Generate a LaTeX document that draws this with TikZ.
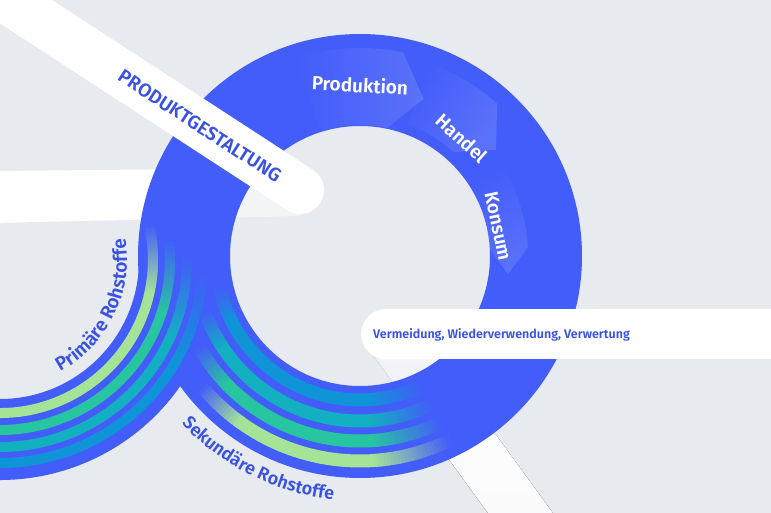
\documentclass[tikz,border=0pt]{standalone}
\usepackage{fontspec}
\setmainfont{Fira Sans}[BoldFont={Fira Sans SemiBold}]
\usetikzlibrary{calc,decorations.text,fadings}
\definecolor{paperbg}{RGB}{231,234,239}
\definecolor{ringblue}{RGB}{67,93,250}
\definecolor{labelblue}{RGB}{58,82,228}
\definecolor{flowlime}{RGB}{165,228,150}
\definecolor{flowgreen}{RGB}{40,198,160}
\definecolor{flowteal}{RGB}{18,176,192}
\definecolor{flowcyan}{RGB}{16,148,216}

% chevron piece of the ring: start angle, end angle, inner and outer radius, fading angle
\newcommand\ringsegment[5]{%
  \fill[segshade, fading angle=#5] ($(C)+(#1:#4)$) arc[start angle=#1, end angle=#2, radius=#4]
    -- ($(C)+({#2-10}:{(#3+#4)/2})$) -- ($(C)+(#2:#3)$)
    arc[start angle=#2, end angle=#1, radius=#3] -- cycle;}

\begin{document}
\begin{tikzpicture}[x=1pt, y=1pt,
    ringlabel/.style={text=white, font=\bfseries\fontsize{19}{19}\selectfont, inner sep=0pt},
    barlabel/.style={text=labelblue, font=\bfseries\fontsize{#1}{#1}\selectfont, inner sep=0pt},
    whitebar/.style={white, line cap=round},
    segshade/.style={white, opacity=0.13, path fading=west}]
    \useasboundingbox (0,0) rectangle (771,-513);
    \clip (0,0) rectangle (771,-513);
    \fill[paperbg] (0,0) rectangle (771,-513);
    \coordinate (C) at (360,-256);
    \coordinate (P) at (0,-260);

    % bands running under the ring
    \fill[white] (-5,-171) -- (300,-168) -- (300,-216) -- (-5,-223) -- cycle;
    \fill[top color=white, bottom color=white!80!paperbg]
        (362,-340) -- (427,-340) -- (558,-520) -- (493,-520) -- cycle;
    \fill[paperbg, opacity=0.5] (C) circle (130);

    % the ring and the primary inflow
    \fill[ringblue, even odd rule] (C) circle (222) (C) circle (130);
    \fill[ringblue] (P) ++(-100:220) arc[start angle=-100, end angle=0, radius=220]
        -- ++(-81,0) arc[start angle=0, end angle=-100, radius=139] -- cycle;

    % value chain pieces
    \ringsegment{108}{78}{131}{208}{0}
    \ringsegment{70}{48}{140}{205}{-32}
    \ringsegment{32}{3}{130}{168}{-74}

    % primary raw material flows
    \foreach \rad/\flow/\e in {153/flowlime/12, 170/flowgreen/6, 187/flowteal/0, 203/flowcyan/-5} {
      \draw[\flow, line width=10] (P) ++(-100:\rad) arc[start angle=-100, end angle=\e-24, radius=\rad];
      \foreach \k in {0,...,23} {
        \pgfmathtruncatemacro\mix{98-4*\k}
        \draw[\flow!\mix!ringblue, line width=10] (P) ++({\e-24.3+\k}:\rad)
            arc[start angle={\e-24.3+\k}, end angle={\e-22.7+\k}, radius=\rad];
      }
    }

    % secondary raw material flows
    \foreach \rad/\flow/\from in {144/flowcyan/193, 165/flowteal/200, 185/flowgreen/210, 205/flowlime/220} {
      \foreach \k in {0,...,13} {
        \pgfmathtruncatemacro\mix{7*\k+5}
        \draw[\flow!\mix!ringblue, line width=13] (C) ++({\from+\k}:\rad)
            arc[start angle={\from+\k}, end angle={\from+1.6+\k}, radius=\rad];
      }
      \draw[\flow, line width=13] (C) ++({\from+13.7}:\rad) arc[start angle={\from+13.7}, end angle=274.3, radius=\rad];
      \foreach \k in {0,...,21} {
        \pgfmathtruncatemacro\mix{97-4.5*\k}
        \draw[\flow!\mix!ringblue, line width=13] (C) ++({273.7+\k}:\rad)
            arc[start angle={273.7+\k}, end angle={275.3+\k}, radius=\rad];
      }
    }

    % white bars on top
    \coordinate (design start) at (-52,39);
    \coordinate (design end) at (300,-190);
    \draw[whitebar, line width=48] (design start) -- (design end);
    \coordinate (reuse start) at (386,-334);
    \coordinate (reuse end) at (800,-334);
    \draw[whitebar, line width=50] (reuse start) -- (reuse end);

    % labels
    \node[barlabel=19, rotate=-33] (design) at (200,-126) {PRODUKTGESTALTUNG};
    \node[barlabel=12.5, anchor=base west] (reuse) at (373,-338) {Vermeidung, Wiederverwendung, Verwertung};
    \node[ringlabel, rotate=-3] (production) at (360,-85) {Produktion};
    \node[ringlabel, rotate=-42] (trade) at (462,-138) {Handel};
    \node[ringlabel, rotate=-78] (consumption) at (498,-226) {Konsum};
    \path[decorate, decoration={text along path, text align=center, text color=labelblue,
        text={|\bfseries\fontsize{19}{19}\selectfont|Primäre Rohstoffe}}]
        (P) ++(-82:127) arc[start angle=-82, end angle=30, radius=127];
    \path[decorate, decoration={text along path, text align=center, text color=labelblue,
        text={|\bfseries\fontsize{18}{18}\selectfont|Sekundäre Rohstoffe}}]
        (C) ++(210:245) arc[start angle=210, end angle=277, radius=245];
\end{tikzpicture}
\end{document}
